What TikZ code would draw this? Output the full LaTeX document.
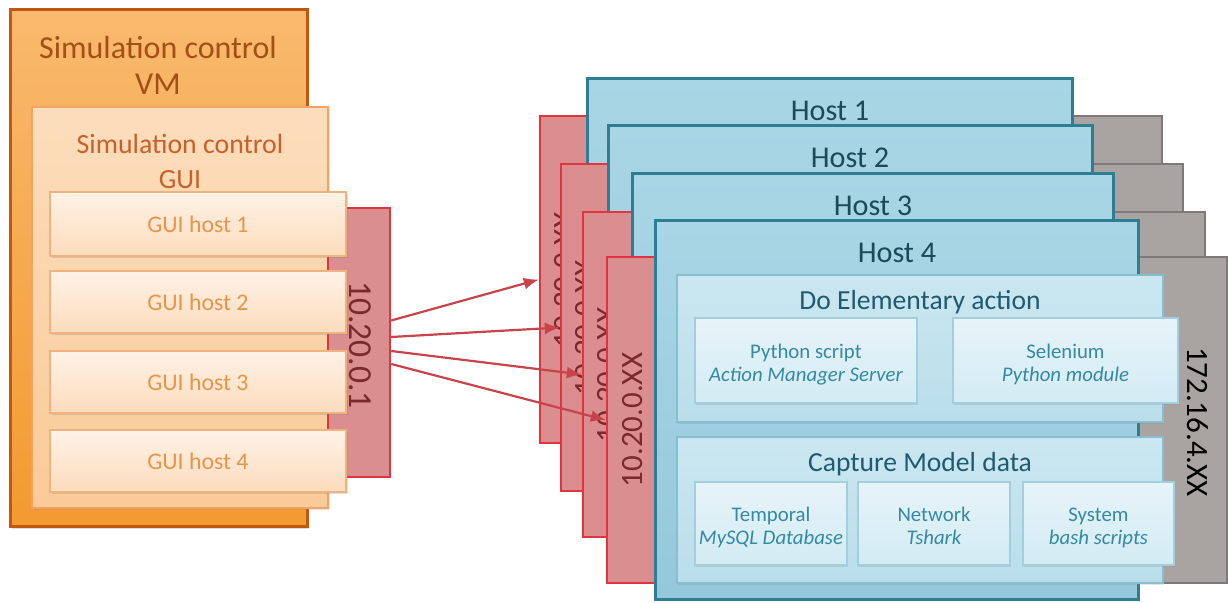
\documentclass[tikz,border=0pt]{standalone}
\usepackage{fontspec}
\setmainfont{Carlito}
\usetikzlibrary{fit,arrows.meta,shadows}
\definecolor{vmborder}{HTML}{C0580F}
\definecolor{vmtop}{HTML}{F9B96E}
\definecolor{vmbot}{HTML}{F39A30}
\definecolor{vmtext}{HTML}{A34F16}
\definecolor{guiborder}{HTML}{EFA466}
\definecolor{guitop}{HTML}{FCDDBC}
\definecolor{guibot}{HTML}{F9CB98}
\definecolor{guitext}{HTML}{C9602A}
\definecolor{ghborder}{HTML}{F0B37E}
\definecolor{ghtop}{HTML}{FEF2E6}
\definecolor{ghbot}{HTML}{FCDCBD}
\definecolor{ghtext}{HTML}{E8954A}
\definecolor{redborder}{HTML}{E0343F}
\definecolor{redfill}{HTML}{DA8E8F}
\definecolor{redtext}{HTML}{7A2A2C}
\definecolor{arrowred}{HTML}{C9444A}
\definecolor{grayborder}{HTML}{7E7978}
\definecolor{grayfill}{HTML}{A9A3A1}
\definecolor{hostborder}{HTML}{2D7E93}
\definecolor{hosttop}{HTML}{A9D6E5}
\definecolor{hostbot}{HTML}{94C8DA}
\definecolor{hosttext}{HTML}{1B4A5A}
\definecolor{secborder}{HTML}{86BFD1}
\definecolor{sectop}{HTML}{CBE7F1}
\definecolor{secbot}{HTML}{B9DEEA}
\definecolor{sectext}{HTML}{1F5B70}
\definecolor{itborder}{HTML}{A3CEDD}
\definecolor{ittop}{HTML}{E6F4F9}
\definecolor{itbot}{HTML}{D3EBF3}
\definecolor{ittext}{HTML}{3489A3}
% box: style, name, x1, y1, x2, y2
\newcommand\bx[6]{\node[#1, fit={(#3,#4) (#5,#6)}, inner sep=0pt] (#2) {};}
\begin{document}
\begin{tikzpicture}[x=0.5pt,y=-0.5pt,
  vmbox/.style={draw=vmborder, line width=1.5pt, top color=vmtop, bottom color=vmbot,
    drop shadow={opacity=0.25, shadow xshift=1pt, shadow yshift=-1pt}},
  guibox/.style={draw=guiborder, line width=0.6pt, top color=guitop, bottom color=guibot,
    drop shadow={opacity=0.2, shadow xshift=1pt, shadow yshift=-1pt}},
  ghbox/.style={draw=ghborder, line width=0.6pt, top color=ghtop, bottom color=ghbot,
    drop shadow={opacity=0.25, shadow xshift=0.8pt, shadow yshift=-1.2pt}},
  ghtxt/.style={text=ghtext, font=\fontsize{11.9}{14}\selectfont, inner sep=0pt},
  redbox/.style={draw=redborder, line width=1.2pt, fill=redfill},
  graybox/.style={draw=grayborder, line width=1pt, fill=grayfill},
  hostbox/.style={draw=hostborder, line width=1.5pt, top color=hosttop, bottom color=hostbot},
  secbox/.style={draw=secborder, line width=0.6pt, top color=sectop, bottom color=secbot,
    drop shadow={opacity=0.2, shadow xshift=0.6pt, shadow yshift=-1pt}},
  itbox/.style={draw=itborder, line width=0.6pt, top color=ittop, bottom color=itbot,
    drop shadow={opacity=0.2, shadow xshift=0.6pt, shadow yshift=-1pt}},
  ittxt/.style={text=ittext, align=center, font=\fontsize{10.4}{11.5}\selectfont, inner sep=0pt, yshift=-2.2pt},
  iplabel/.style={font=\fontsize{15.5}{18}\selectfont, inner sep=0pt},
  hosttitle/.style={text=hosttext, font=\fontsize{15.1}{18}\selectfont, inner sep=0pt},
  sectitle/.style={text=sectext, font=\fontsize{13.8}{16}\selectfont, inner sep=0pt},
  conn/.style={draw=arrowred, line width=1.1pt, -{Latex[length=7.5pt,width=6pt]}}
]
\useasboundingbox (0,0) rectangle (1228,603);

% ---------- left side ----------
\bx{vmbox}{vm}{10}{10}{307}{527}
\node[text=vmtext, align=center, font=\fontsize{16}{18}\selectfont, inner sep=0pt] (vmt) at (158,65) {Simulation control\\VM};
\bx{guibox}{gui}{32}{107}{328}{508}
\node[text=guitext, align=center, font=\fontsize{13.9}{17.5}\selectfont, inner sep=0pt] (guit) at (180,161) {Simulation control\\GUI};
\bx{redbox}{lred}{328}{208}{390}{477}
\node[iplabel, font=\fontsize{16.8}{18}\selectfont, text=redtext, rotate=-90] (lredt) at (360,345) {10.20.0.1};
\bx{ghbox}{gh1}{50}{192}{346}{256}
\node[ghtxt] (gh1t) at (gh1.center) {GUI host 1};
\bx{ghbox}{gh2}{50}{271}{346}{333}
\node[ghtxt] (gh2t) at (gh2.center) {GUI host 2};
\bx{ghbox}{gh3}{50}{351}{346}{413}
\node[ghtxt] (gh3t) at (gh3.center) {GUI host 3};
\bx{ghbox}{gh4}{50}{430}{346}{492}
\node[ghtxt] (gh4t) at (gh4.center) {GUI host 4};

% ---------- right side ----------
\bx{redbox}{r1}{540}{116}{600}{443}
\node[iplabel, text=redtext, rotate=90] (r1t) at (565,280) {10.20.0.XX};
\bx{graybox}{gr1}{1040}{116}{1162}{443}
\bx{hostbox}{h1}{587}{79}{1072}{458}
\node[hosttitle] (h1t) at (830,111) {Host 1};

\bx{redbox}{r2}{561}{164}{621}{491}
\node[iplabel, text=redtext, rotate=90] (r2t) at (586,328) {10.20.0.XX};
\bx{graybox}{gr2}{1060}{164}{1183}{491}
\bx{hostbox}{h2}{608}{126}{1092}{505}
\node[hosttitle] (h2t) at (850,158) {Host 2};

\bx{redbox}{r3}{583}{212}{643}{537}
\node[iplabel, text=redtext, rotate=90] (r3t) at (608,375) {10.20.0.XX};
\bx{graybox}{gr3}{1080}{212}{1205}{537}
\bx{hostbox}{h3}{632}{174}{1113}{553}
\node[hosttitle] (h3t) at (873,206) {Host 3};

\bx{redbox}{r4}{607}{257}{667}{583}
\node[iplabel, text=redtext, rotate=90] (r4t) at (633,420) {10.20.0.XX};
\bx{graybox}{gr4}{1100}{257}{1227}{583}
\node[iplabel, text=black, rotate=-90] (gr4t) at (1198,422) {172.16.4.XX};
\bx{hostbox}{h4}{655}{221}{1138}{600}
\node[hosttitle] (h4t) at (897,253) {Host 4};

\bx{secbox}{do}{677}{275}{1163}{422}
\node[sectitle] (dot) at (920,302) {Do Elementary action};
\bx{itbox}{py}{695}{318}{917}{403}
\node[ittxt] (pyt) at (py.center) {Python script\\\textit{Action Manager Server}};
\bx{itbox}{sel}{953}{318}{1178}{403}
\node[ittxt] (selt) at (sel.center) {Selenium\\\textit{Python module}};

\bx{secbox}{cap}{677}{437}{1163}{583}
\node[sectitle] (capt) at (920,464) {Capture Model data};
\bx{itbox}{tem}{695}{482}{847}{565}
\node[ittxt] (temt) at (tem.center) {Temporal\\\textit{MySQL Database}};
\bx{itbox}{net}{858}{482}{1010}{565}
\node[ittxt] (nett) at (net.center) {Network\\\textit{Tshark\vphantom{y}}};
\bx{itbox}{sys}{1023}{482}{1174}{565}
\node[ittxt] (syst) at (sys.center) {System\\\textit{bash scripts}};

% ---------- connectors ----------
\draw[conn] ([yshift=11pt]lred.east) -- (r1.west);
\draw[conn] ([yshift=2.75pt]lred.east) -- (r2.west);
\draw[conn] ([yshift=-4.25pt]lred.east) -- (r3.west);
\draw[conn] ([yshift=-10.75pt]lred.east) -- (r4.west);
\end{tikzpicture}
\end{document}
